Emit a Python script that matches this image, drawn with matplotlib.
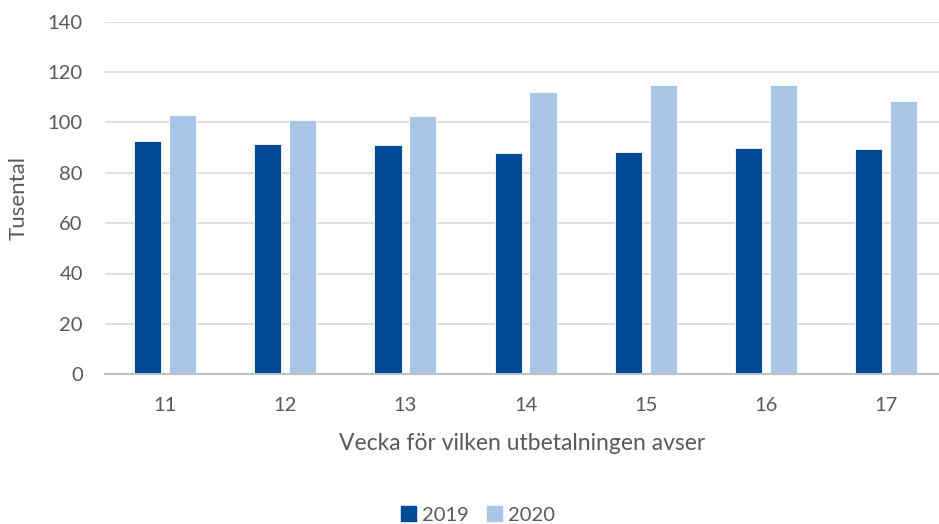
import matplotlib
matplotlib.use("Agg")
import matplotlib.pyplot as plt
import numpy as np
from matplotlib.patches import Patch

weeks = ["11", "12", "13", "14", "15", "16", "17"]
series_2019 = [92.7, 91.3, 90.9, 87.7, 88.2, 89.8, 89.3]
series_2020 = [102.9, 100.9, 102.5, 112.1, 114.7, 114.7, 108.6]
series_names = ["2019", "2020"]
yticks = [0, 20, 40, 60, 80, 100, 120, 140]

plt.rcParams['font.family'] = ['Lato', 'DejaVu Sans']
c19 = "#004a97"
c20 = "#a9c6e8"
txt = "#595959"

fig = plt.figure(figsize=(9.39, 5.24), dpi=100)
ax = fig.add_axes([105/939, 1-374.3/524, 1-105/939, (374.3-21.5)/524])

x = np.arange(len(weeks))
w = 0.227
off = 0.145
ax.bar(x - off, series_2019, w, color=c19, edgecolor="white", linewidth=0.6, zorder=3)
ax.bar(x + off, series_2020, w, color=c20, edgecolor="white", linewidth=0.6, zorder=3)

ax.set_ylim(0, 140)
ax.set_xlim(-0.5, 6.44)
ax.set_yticks(yticks)
ax.set_xticks(x)
ax.set_xticklabels(weeks)
ax.grid(axis="y", color="#d9d9d9", linewidth=1.2, zorder=0)
for s in ["top", "right", "left"]:
    ax.spines[s].set_visible(False)
ax.spines["bottom"].set_color("#bfbfbf")
ax.spines["bottom"].set_linewidth(1.5)
ax.spines["bottom"].set_zorder(4)
ax.tick_params(axis="both", length=0, labelsize=14.5, labelcolor=txt)
ax.tick_params(axis="y", pad=16)
ax.tick_params(axis="x", pad=16)
ax.set_xlabel("Vecka för vilken utbetalningen avser", fontsize=16.5, color=txt, labelpad=14)
ax.set_ylabel("Tusental", fontsize=16, color=txt, labelpad=14)

handles = [Patch(color=c19), Patch(color=c20)]
fig.legend(handles, series_names, loc="center", bbox_to_anchor=(478/939, 1-515/524),
           ncol=2, frameon=False, fontsize=14.5, handlelength=0.75, handleheight=0.75,
           handletextpad=0.3, columnspacing=0.9, labelcolor=txt)

fig.savefig("out.png", dpi=100)
